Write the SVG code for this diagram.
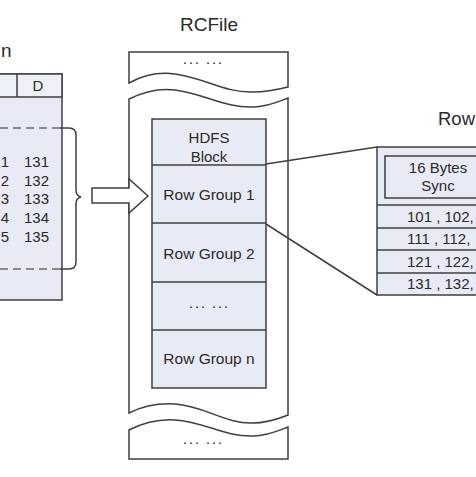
<svg xmlns="http://www.w3.org/2000/svg" width="476" height="477" viewBox="0 0 476 477">
<style>
.s{stroke:#3f3f3f;stroke-width:1.5;fill:none}
.w{stroke:#3f3f3f;stroke-width:1.5;fill:#ffffff}
.b{stroke:#3f3f3f;stroke-width:1.5;fill:#e8ebf5}
.t{font-family:"Liberation Sans",Arial,sans-serif;fill:#2a2a2a}
.c{text-anchor:middle}
.dash{stroke:#8a8a8a;stroke-width:2;stroke-dasharray:8,5;fill:none}
</style>
<rect width="476" height="477" fill="#ffffff"/>

<g id="left-table">
  <text class="t" x="1" y="57" font-size="19">n</text>
  <rect class="b" x="-5" y="74" width="67" height="226"/>
  <rect class="w" x="-5" y="74" width="67" height="23" style="fill:#eef0f7"/>
  <line class="s" x1="17" y1="74" x2="17" y2="97"/>
  <text class="t c" x="38" y="91" font-size="15">D</text>
  <g class="t" font-size="15">
    <text x="9" y="167" text-anchor="end">1</text><text x="24" y="167">131</text>
    <text x="9" y="186" text-anchor="end">2</text><text x="24" y="186">132</text>
    <text x="9" y="204" text-anchor="end">3</text><text x="24" y="204">133</text>
    <text x="9" y="223" text-anchor="end">4</text><text x="24" y="223">134</text>
    <text x="9" y="242" text-anchor="end">5</text><text x="24" y="242">135</text>
  </g>
  <line class="dash" x1="0" y1="128" x2="60" y2="128"/>
  <line class="dash" x1="0" y1="269" x2="60" y2="269"/>
  <path class="s" d="M60,128 H69 Q76,128 76,135 V190 Q76,196 81,197 Q76,198 76,204 V262 Q76,269 69,269 H60"/>
</g>

<g id="rcfile">
  <text class="t c" x="209" y="31" font-size="19">RCFile</text>
  <path class="w" d="M129,52 H288 V87 C280,89 268,92 253,92 C225,93 205,78 175,74 C160,72 145,74 129,83 Z"/>
  <text class="t c" x="203" y="67" font-size="15" letter-spacing="1">··· ···</text>
  <path class="w" d="M129,99 C145,91 160,88 175,90 C205,94 225,108 253,107 C268,107 280,101 288,98 V415 C280,418 268,423 253,423 C225,424 205,406 175,404 C160,403 145,405 129,413 Z"/>
  <path class="w" d="M129,430 C145,422 160,419 175,420 C205,422 225,437 253,436 C268,436 280,430 288,427 V459 H129 Z"/>
  <text class="t c" x="203" y="447" font-size="15" letter-spacing="1">··· ···</text>
</g>

<g id="hdfs-block">
  <rect class="b" x="152" y="119" width="114" height="269"/>
  <line class="s" x1="152" y1="165" x2="266" y2="165"/>
  <line class="s" x1="152" y1="223" x2="266" y2="223"/>
  <line class="s" x1="152" y1="282" x2="266" y2="282"/>
  <line class="s" x1="152" y1="330" x2="266" y2="330"/>
  <text class="t c" x="209" y="143" font-size="15">HDFS</text>
  <text class="t c" x="209" y="162" font-size="15">Block</text>
  <text class="t c" x="209" y="200" font-size="15.5">Row Group 1</text>
  <text class="t c" x="209" y="259" font-size="15.5">Row Group 2</text>
  <text class="t c" x="209" y="311" font-size="15" letter-spacing="1">··· ···</text>
  <text class="t c" x="209" y="364" font-size="15.5">Row Group n</text>
</g>

<g id="row-group">
  <text class="t" x="438" y="125" font-size="18.5">Row</text>
  <rect class="b" x="377" y="147" width="130" height="148"/>
  <rect class="b" x="385" y="156" width="120" height="42"/>
  <line class="s" x1="377" y1="205" x2="476" y2="205"/>
  <line class="s" x1="377" y1="228" x2="476" y2="228"/>
  <line class="s" x1="377" y1="250" x2="476" y2="250"/>
  <line class="s" x1="377" y1="273" x2="476" y2="273"/>
  <text class="t c" x="438" y="173" font-size="15">16 Bytes</text>
  <text class="t c" x="438" y="191" font-size="15">Sync</text>
  <g class="t" font-size="15">
    <text x="407" y="222">101 , 102,</text>
    <text x="407" y="244">111 , 112,</text>
    <text x="407" y="267">121 , 122,</text>
    <text x="407" y="289">131 , 132,</text>
  </g>
</g>

<g id="connectors">
  <polygon class="w" points="92,188 129,188 129,179 148,196 129,213 129,203 92,203"/>
  <line class="s" x1="266" y1="164" x2="377" y2="147"/>
  <line class="s" x1="266" y1="224" x2="377" y2="295"/>
</g>
</svg>
